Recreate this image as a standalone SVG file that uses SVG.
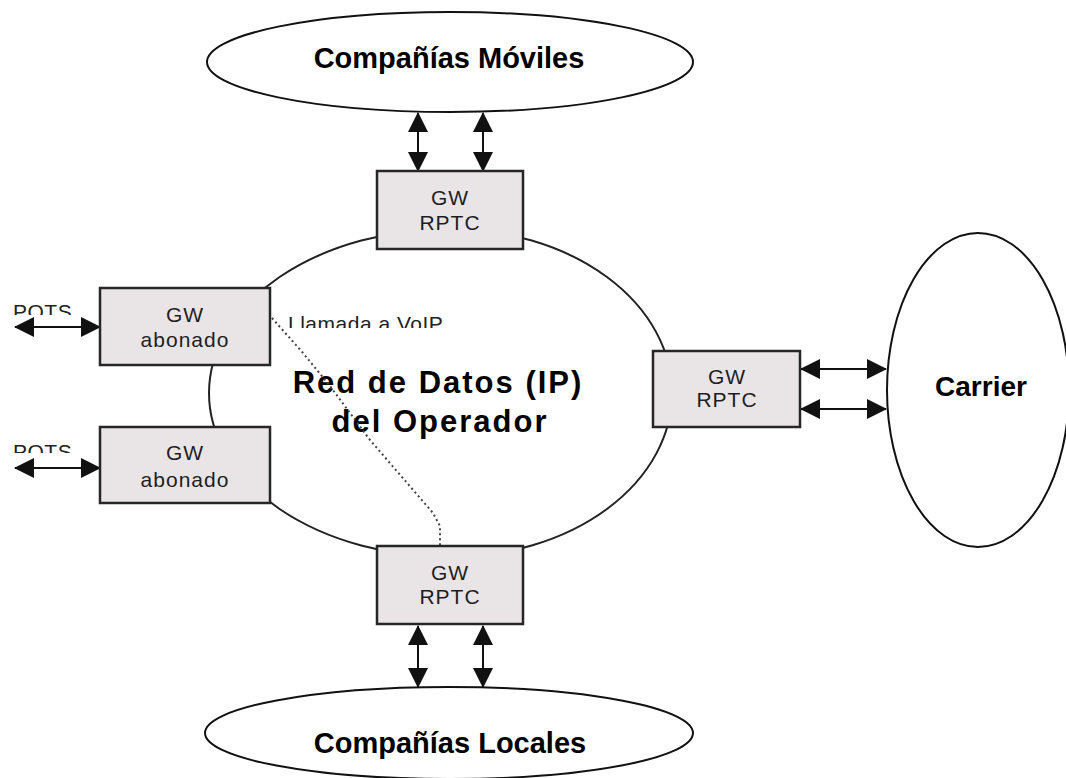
<svg xmlns="http://www.w3.org/2000/svg" width="1066" height="778" viewBox="0 0 1066 778">
  <style>
    .cloud { fill: #ffffff; stroke: #111111; stroke-width: 2; }
    .net { fill: #ffffff; stroke: #222222; stroke-width: 2; }
    .gw { fill: #e9e5e7; stroke: #262626; stroke-width: 2.5; }
    .gwtxt { font-family: "Liberation Sans", Arial, sans-serif; font-size: 21px; fill: #1e1e1e; text-anchor: middle; letter-spacing: 1px; }
    .big { font-family: "Liberation Sans", Arial, sans-serif; font-weight: bold; font-size: 29px; fill: #000000; text-anchor: middle; }
    .netlbl { font-family: "Liberation Sans", Arial, sans-serif; font-weight: bold; font-size: 31px; fill: #000000; text-anchor: middle; letter-spacing: 2px; }
    .small { font-family: "Liberation Sans", Arial, sans-serif; font-size: 21px; fill: #222222; letter-spacing: 0.5px; }
    .link { stroke: #111111; stroke-width: 2; fill: none; marker-start: url(#head); marker-end: url(#head); }
    .call { stroke: #444444; stroke-width: 2; fill: none; stroke-dasharray: 2 3; }
  </style>
  <defs>
    <marker id="head" viewBox="0 0 20 20" refX="19" refY="10" markerWidth="20" markerHeight="20" markerUnits="userSpaceOnUse" orient="auto-start-reverse">
      <path d="M0,0 L20,10 L0,20 Z" fill="#111111"/>
    </marker>
    <clipPath id="cutPots1"><rect x="0" y="290" width="100" height="25"/></clipPath>
    <clipPath id="cutPots2"><rect x="0" y="430" width="100" height="23"/></clipPath>
    <clipPath id="cutCall"><rect x="280" y="300" width="200" height="28"/></clipPath>
  </defs>

  <!-- operator IP network -->
  <g id="red-datos">
    <path class="net" d="M450,229 A241,164 0 0 0 209,393 A241,164 0 0 0 450,557 A222,164 0 0 0 672,393 A222,164 0 0 0 450,229 Z"/>
    <text class="netlbl" x="438" y="393">Red de Datos (IP)</text>
    <text class="netlbl" x="440" y="432">del Operador</text>
  </g>

  <!-- external networks -->
  <g id="moviles">
    <ellipse class="cloud" cx="450" cy="62" rx="243" ry="50"/>
    <text class="big" x="449" y="68">Compañías Móviles</text>
  </g>
  <g id="locales">
    <ellipse class="cloud" cx="449" cy="733" rx="244" ry="46"/>
    <text class="big" x="450" y="753">Compañías Locales</text>
  </g>
  <g id="carrier">
    <ellipse class="cloud" cx="978" cy="390" rx="91" ry="157"/>
    <text class="big" x="981" y="396" style="font-size:28px">Carrier</text>
  </g>

  <!-- connectors -->
  <g id="connectors">
    <line class="link" x1="418" y1="113" x2="418" y2="171"/>
    <line class="link" x1="483" y1="113" x2="483" y2="171"/>
    <line class="link" x1="418" y1="626" x2="418" y2="687"/>
    <line class="link" x1="483" y1="626" x2="483" y2="687"/>
    <line class="link" x1="801" y1="369" x2="886" y2="369"/>
    <line class="link" x1="801" y1="409" x2="886" y2="409"/>
    <line class="link" x1="15" y1="327" x2="100" y2="327"/>
    <line class="link" x1="15" y1="468" x2="100" y2="468"/>
    <polyline class="call" points="272,318 303,353 330,386 370,440 433,513 440,526 440,546"/>
  </g>

  <!-- labels on connectors -->
  <g id="labels">
    <text class="small" x="13" y="319" clip-path="url(#cutPots1)">POTS</text>
    <text class="small" x="13" y="459" clip-path="url(#cutPots2)">POTS</text>
    <text class="small" x="288" y="331" clip-path="url(#cutCall)">Llamada a VoIP</text>
  </g>

  <!-- gateways -->
  <g id="gw-rptc-top">
    <rect class="gw" x="377" y="171" width="146" height="78"/>
    <text class="gwtxt" x="450" y="205">GW</text>
    <text class="gwtxt" x="450" y="230">RPTC</text>
  </g>
  <g id="gw-rptc-bottom">
    <rect class="gw" x="377" y="546" width="146" height="78"/>
    <text class="gwtxt" x="450" y="580">GW</text>
    <text class="gwtxt" x="450" y="604">RPTC</text>
  </g>
  <g id="gw-rptc-right">
    <rect class="gw" x="653" y="351" width="147" height="76"/>
    <text class="gwtxt" x="727" y="384">GW</text>
    <text class="gwtxt" x="727" y="407">RPTC</text>
  </g>
  <g id="gw-abonado-1">
    <rect class="gw" x="100" y="288" width="170" height="77"/>
    <text class="gwtxt" x="185" y="322">GW</text>
    <text class="gwtxt" x="185" y="347">abonado</text>
  </g>
  <g id="gw-abonado-2">
    <rect class="gw" x="100" y="427" width="170" height="76"/>
    <text class="gwtxt" x="185" y="460">GW</text>
    <text class="gwtxt" x="185" y="487">abonado</text>
  </g>
</svg>
